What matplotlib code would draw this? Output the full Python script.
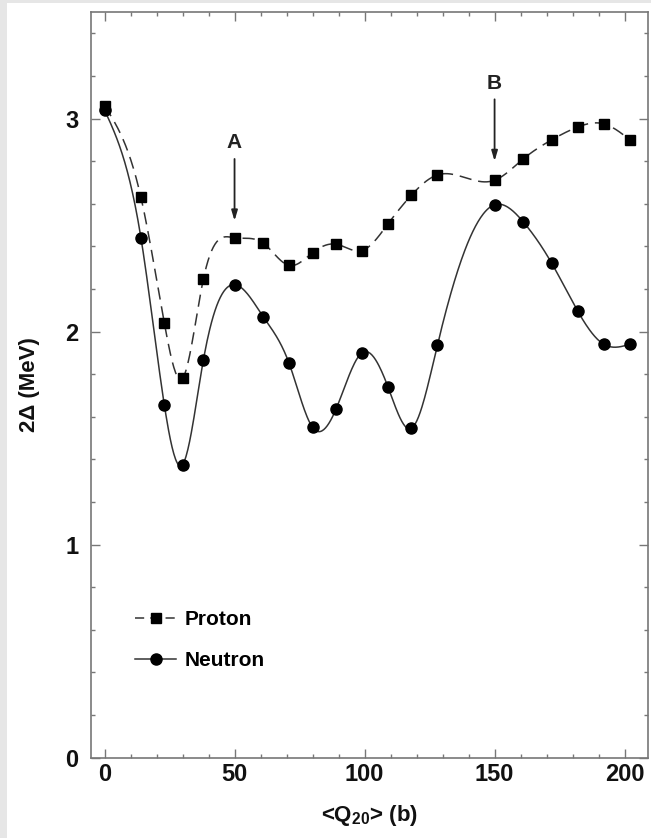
import numpy as np
import matplotlib
matplotlib.use("Agg")
from matplotlib import pyplot as plt
from matplotlib.patches import Rectangle

plt.rcParams['font.family'] = ['Liberation Sans', 'DejaVu Sans']
plt.rcParams['font.weight'] = 'bold'
plt.rcParams['mathtext.fontset'] = 'custom'
plt.rcParams['mathtext.bf'] = 'Liberation Sans:bold'
plt.rcParams['mathtext.rm'] = 'Liberation Sans:bold'

# pairing gap vs quadrupole moment
q20 = [0, 14, 23, 30, 38, 50, 61, 71, 80, 89, 99, 109, 118, 128, 150, 161, 172, 182, 192, 202]
proton = [3.06, 2.63, 2.04, 1.78, 2.245, 2.44, 2.415, 2.31, 2.37, 2.41, 2.38, 2.505, 2.64, 2.735,
          2.71, 2.81, 2.90, 2.96, 2.975, 2.90]
neutron = [3.04, 2.44, 1.655, 1.375, 1.865, 2.22, 2.07, 1.85, 1.55, 1.635, 1.90, 1.74, 1.545, 1.935,
           2.595, 2.515, 2.32, 2.095, 1.94, 1.94]

arrow_x = [50, 150]
arrow_tip = [2.52, 2.80]
arrow_labels = ['A', 'B']


def natural_spline(x, y, n=600):
    x = np.asarray(x, float)
    y = np.asarray(y, float)
    m = len(x)
    h = np.diff(x)
    A = np.zeros((m, m))
    r = np.zeros(m)
    A[0, 0] = A[-1, -1] = 1
    for i in range(1, m - 1):
        A[i, i - 1] = h[i - 1]
        A[i, i] = 2 * (h[i - 1] + h[i])
        A[i, i + 1] = h[i]
        r[i] = 6 * ((y[i + 1] - y[i]) / h[i] - (y[i] - y[i - 1]) / h[i - 1])
    M = np.linalg.solve(A, r)
    xs = np.linspace(x[0], x[-1], n)
    k = np.clip(np.searchsorted(x, xs) - 1, 0, m - 2)
    t1 = x[k + 1] - xs
    t0 = xs - x[k]
    hk = h[k]
    ys = (M[k] * t1**3 + M[k + 1] * t0**3) / (6 * hk) \
        + (y[k] / hk - M[k] * hk / 6) * t1 + (y[k + 1] / hk - M[k + 1] * hk / 6) * t0
    return xs, ys


fig = plt.figure(figsize=(6.51, 8.38), dpi=100)
fig.patch.set_facecolor('#e6e6e6')
fig.patches.append(Rectangle((7 / 651, 0), 1, 835 / 838, transform=fig.transFigure,
                             facecolor='white', edgecolor='none', zorder=-1))
ax = fig.add_axes([91 / 651, 1 - 757.5 / 838, (648 - 91) / 651, (757.5 - 12) / 838])

lc = '#333333'
dash = (8, 4.5)
xs, ys = natural_spline(q20, proton)
ax.plot(xs, ys, color=lc, lw=1.1, dashes=dash)
ax.plot(q20, proton, 's', color='black', ms=7, ls='none')
xs, ys = natural_spline(q20, neutron)
ax.plot(xs, ys, color=lc, lw=1.1)
ax.plot(q20, neutron, 'o', color='black', ms=8, ls='none')

# legend handles
ax.plot([], [], color=lc, lw=1.1, dashes=(6, 4), marker='s', mfc='black', mec='black', ms=7, label='Proton')
ax.plot([], [], color=lc, lw=1.1, marker='o', mfc='black', mec='black', ms=8, label='Neutron')
leg = ax.legend(loc='lower left', bbox_to_anchor=(0.045, 0.092), frameon=False, fontsize=15,
                handlelength=2.0, handletextpad=0.4, labelspacing=1.05)

for x0, tip, lab in zip(arrow_x, arrow_tip, arrow_labels):
    ax.annotate('', xy=(x0, tip), xytext=(x0, tip + 0.29),
                arrowprops=dict(arrowstyle='-|>,head_length=0.6,head_width=0.18',
                                color='#222222', lw=1.3, shrinkA=0, shrinkB=0))
    ax.text(x0, tip + 0.365, lab, ha='center', va='center', fontsize=15, fontweight='bold',
            color='#222222')

ax.set_xlim(-5.2, 209)
ax.set_ylim(0, 3.5)
ax.set_xticks([0, 50, 100, 150, 200])
ax.set_xticks(np.arange(0, 210, 10), minor=True)
ax.set_yticks([0, 1, 2, 3])
ax.set_yticks(np.arange(0, 3.5, 0.2), minor=True)
ax.tick_params(which='both', direction='in', top=True, right=True, color='#777777', width=1)
ax.tick_params(which='major', length=6.5, labelsize=17, colors='#777777', labelcolor='#111111')
ax.tick_params(which='minor', length=3.2)
ax.tick_params(axis='y', which='major', pad=9)
ax.tick_params(axis='x', which='major', pad=4)
for s in ax.spines.values():
    s.set_color('#777777')
    s.set_linewidth(1.2)

ax.set_xlabel(r'<Q$_{\mathbf{20}}$> (b)', fontsize=16, fontweight='bold', color='#111111', labelpad=12)
ax.set_ylabel('2Δ (MeV)', fontsize=16, fontweight='bold', color='#111111', labelpad=18)

fig.savefig('out.png', dpi=100, facecolor=fig.get_facecolor())
